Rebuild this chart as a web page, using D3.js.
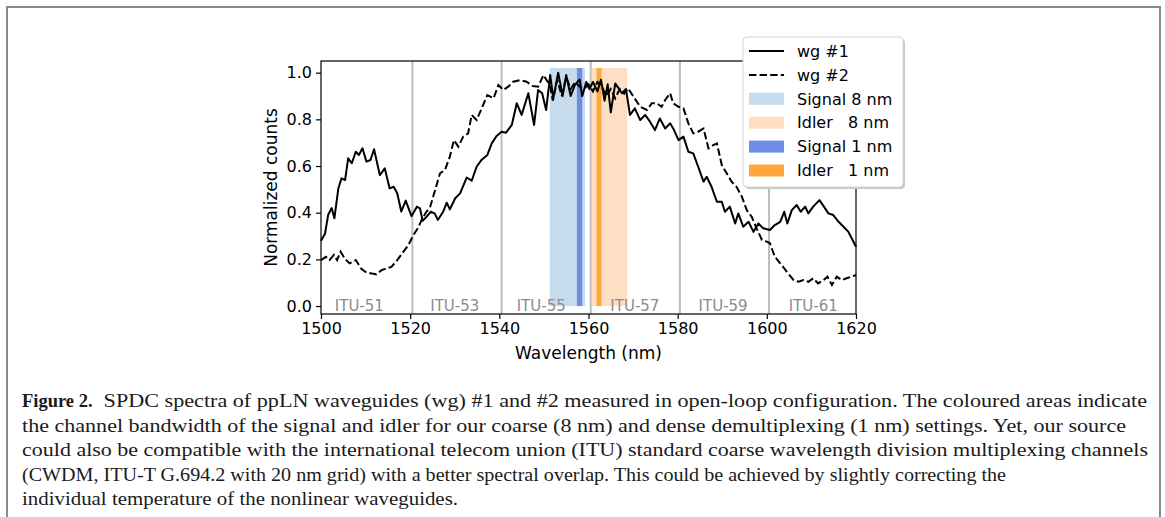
<!DOCTYPE html>
<html>
<head>
<meta charset="utf-8">
<script src="https://cdn.jsdelivr.net/npm/d3@7"></script>
<style>
  body { margin: 0; background: #fff; }
  svg { display: block; }
</style>
</head>
<body>
<div id="chart"></div>
<script>
// wg #1 (solid) - wavelength (nm) and normalized counts
const wl1 = [1500.0,1500.9,1501.6,1502.4,1503.0,1503.9,1504.6,1505.4,1506.1,1506.9,1507.8,1508.5,1509.3,1510.2,1511.1,1511.9,1513.2,1514.3,1515.4,1516.3,1517.1,1518.0,1519.0,1520.3,1521.5,1522.2,1522.8,1523.7,1524.6,1525.5,1526.2,1527.4,1528.2,1528.9,1530.1,1531.2,1532.7,1533.8,1534.9,1536.0,1537.3,1538.3,1539.4,1540.5,1541.5,1542.8,1543.9,1545.0,1546.5,1547.8,1548.7,1549.6,1550.5,1551.4,1552.1,1553.2,1554.2,1555.0,1556.0,1557.0,1558.0,1558.6,1559.5,1560.2,1561.0,1562.0,1562.8,1563.6,1564.3,1565.0,1566.0,1567.5,1568.4,1569.3,1570.4,1571.6,1572.7,1573.8,1574.9,1576.0,1577.2,1578.3,1579.0,1580.2,1581.3,1582.4,1583.5,1584.6,1585.8,1586.5,1587.6,1588.8,1589.9,1590.6,1591.7,1592.9,1593.6,1594.7,1595.9,1597.0,1598.1,1599.2,1600.7,1601.8,1603.0,1603.9,1604.6,1605.6,1606.7,1607.6,1608.6,1609.3,1610.4,1611.8,1612.8,1613.8,1614.9,1616.1,1617.2,1618.3,1620.0];
const wg1 = [0.28,0.31,0.39,0.42,0.376,0.505,0.547,0.54,0.633,0.612,0.661,0.647,0.676,0.619,0.626,0.672,0.561,0.59,0.504,0.511,0.483,0.405,0.452,0.385,0.426,0.419,0.365,0.383,0.404,0.397,0.369,0.404,0.443,0.414,0.462,0.483,0.551,0.537,0.597,0.626,0.647,0.697,0.729,0.747,0.743,0.776,0.869,0.819,0.912,0.776,0.926,0.912,0.84,0.99,0.89,1.0,0.9,0.99,0.9,0.95,0.97,0.9,0.96,0.93,0.96,0.92,0.97,0.88,0.95,0.83,0.954,0.912,0.93,0.819,0.847,0.797,0.819,0.79,0.754,0.804,0.761,0.783,0.761,0.711,0.726,0.661,0.654,0.597,0.533,0.554,0.511,0.447,0.447,0.404,0.426,0.354,0.397,0.34,0.361,0.318,0.354,0.333,0.326,0.347,0.361,0.404,0.354,0.411,0.433,0.404,0.426,0.397,0.426,0.454,0.426,0.397,0.39,0.361,0.34,0.318,0.254];

// wg #2 (dashed)
const wl2 = [1500.0,1501.1,1501.9,1502.9,1503.6,1504.4,1505.3,1506.4,1507.8,1509.0,1510.2,1511.3,1512.4,1513.6,1514.7,1515.8,1517.1,1518.5,1519.6,1520.6,1521.8,1522.6,1523.5,1524.5,1525.6,1526.7,1527.8,1528.9,1529.8,1530.8,1531.9,1533.0,1533.8,1534.9,1536.2,1537.3,1538.7,1539.8,1540.9,1542.0,1543.1,1544.6,1546.1,1547.5,1548.7,1549.9,1550.6,1551.3,1552.0,1553.0,1554.0,1555.0,1556.0,1557.0,1558.0,1559.0,1560.0,1561.0,1562.0,1563.0,1564.0,1565.0,1566.0,1567.0,1568.0,1568.9,1570.0,1571.6,1573.1,1574.2,1575.3,1576.4,1577.2,1578.3,1579.0,1580.2,1581.3,1582.4,1583.5,1584.6,1585.8,1586.9,1588.0,1588.8,1589.9,1591.0,1592.1,1593.2,1594.4,1595.5,1596.6,1597.7,1598.9,1600.0,1600.7,1601.8,1603.0,1604.5,1606.0,1607.1,1608.2,1609.3,1610.4,1611.5,1612.7,1613.6,1614.6,1615.7,1616.8,1617.9,1619.0,1620.0];
const wg2 = [0.197,0.211,0.197,0.219,0.197,0.233,0.204,0.183,0.197,0.161,0.143,0.14,0.136,0.154,0.161,0.168,0.197,0.233,0.261,0.30,0.336,0.37,0.40,0.426,0.497,0.569,0.583,0.64,0.711,0.683,0.726,0.74,0.819,0.797,0.854,0.904,0.89,0.947,0.926,0.94,0.961,0.968,0.961,0.943,0.94,0.99,0.968,0.95,0.88,0.97,0.9,0.98,0.93,0.96,0.94,0.93,0.95,0.92,0.96,0.94,0.9,0.93,0.89,0.93,0.91,0.933,0.9,0.854,0.84,0.869,0.869,0.854,0.883,0.912,0.869,0.854,0.847,0.783,0.74,0.747,0.761,0.676,0.69,0.697,0.604,0.569,0.533,0.511,0.469,0.411,0.383,0.333,0.283,0.276,0.269,0.211,0.183,0.147,0.111,0.104,0.111,0.104,0.119,0.097,0.111,0.126,0.09,0.126,0.111,0.119,0.126,0.133];

// filter bands (nm)
const bandNames = ["Signal 8 nm", "Idler   8 nm", "Signal 1 nm", "Idler   1 nm"];
const bandStart = [1551.3, 1560.7, 1557.4, 1561.8];
const bandEnd   = [1559.2, 1568.7, 1558.6, 1562.9];
const bandColors = ["#c6dbeb", "#fedfc4", "#708de3", "#ffa73f"];

// ITU CWDM grid boundaries and labels
const ituLines = [1520.5, 1540.5, 1560.5, 1580.5, 1600.5];
const ituLabels = ["ITU-51", "ITU-53", "ITU-55", "ITU-57", "ITU-59", "ITU-61"];
const ituLabelPos = [1508.6, 1530.0, 1549.4, 1570.4, 1590.2, 1610.4];

const xTicks = [1500, 1520, 1540, 1560, 1580, 1600, 1620];
const yTicks = [0.0, 0.2, 0.4, 0.6, 0.8, 1.0];

const captionLines = [
  "SPDC spectra of ppLN waveguides (wg) #1 and #2 measured in open-loop configuration. The coloured areas indicate",
  "the channel bandwidth of the signal and idler for our coarse (8 nm) and dense demultiplexing (1 nm) settings. Yet, our source",
  "could also be compatible with the international telecom union (ITU) standard coarse wavelength division multiplexing channels",
  "(CWDM, ITU-T G.694.2 with 20 nm grid) with a better spectral overlap. This could be achieved by slightly correcting the",
  "individual temperature of the nonlinear waveguides."
];

const width = 1165, height = 517;
const margin = {top: 61, right: 309, bottom: 203, left: 321};

const svg = d3.select("#chart").append("svg")
  .attr("width", width)
  .attr("height", height);

// page frame
svg.append("rect")
  .attr("x", 7).attr("y", 7)
  .attr("width", 1153).attr("height", 540)
  .attr("fill", "none")
  .attr("stroke", "#8a8a8a")
  .attr("stroke-width", 2);

const x = d3.scaleLinear()
  .domain([1500, 1620])
  .range([margin.left, width - margin.right]);

const y = d3.scaleLinear()
  .domain([-0.034, 1.05])
  .range([height - margin.bottom, margin.top]);

const plot = svg.append("g");

// coloured bands
plot.selectAll("rect.band")
  .data(bandNames)
  .join("rect")
  .attr("class", "band")
  .attr("x", (d, i) => x(bandStart[i]))
  .attr("y", y(1.02))
  .attr("width", (d, i) => x(bandEnd[i]) - x(bandStart[i]))
  .attr("height", y(0) - y(1.02))
  .attr("fill", (d, i) => bandColors[i]);

// ITU grid lines
plot.selectAll("line.itu")
  .data(ituLines)
  .join("line")
  .attr("x1", d => x(d)).attr("x2", d => x(d))
  .attr("y1", y.range()[1]).attr("y2", y.range()[0])
  .attr("stroke", "#bdbdbd")
  .attr("stroke-width", 2);

// ITU labels
plot.selectAll("text.itu")
  .data(ituLabels)
  .join("text")
  .attr("x", (d, i) => x(ituLabelPos[i]))
  .attr("y", y(0) + 5)
  .attr("text-anchor", "middle")
  .attr("font-family", "DejaVu Sans")
  .attr("font-size", "15px")
  .attr("fill", "#8c8c8c")
  .text(d => d);

// curves
const line = d3.line()
  .x(d => x(d[0]))
  .y(d => y(d[1]));

plot.append("path")
  .datum(wl2.map((w, i) => [w, wg2[i]]))
  .attr("d", line)
  .attr("fill", "none")
  .attr("stroke", "#000")
  .attr("stroke-width", 2)
  .attr("stroke-dasharray", "7.4,3.2");

plot.append("path")
  .datum(wl1.map((w, i) => [w, wg1[i]]))
  .attr("d", line)
  .attr("fill", "none")
  .attr("stroke", "#000")
  .attr("stroke-width", 2)
  .attr("stroke-linejoin", "round");

// frame
svg.append("rect")
  .attr("x", margin.left).attr("y", margin.top)
  .attr("width", width - margin.left - margin.right)
  .attr("height", height - margin.top - margin.bottom)
  .attr("fill", "none")
  .attr("stroke", "#000")
  .attr("stroke-width", 1.2);

// axes
const xAxis = svg.append("g")
  .attr("transform", `translate(0,${height - margin.bottom})`)
  .call(d3.axisBottom(x).tickValues(xTicks).tickFormat(d3.format("d")).tickSize(5).tickPadding(4));

const yAxis = svg.append("g")
  .attr("transform", `translate(${margin.left},0)`)
  .call(d3.axisLeft(y).tickValues(yTicks).tickFormat(d3.format(".1f")).tickSize(5).tickPadding(4));

[xAxis, yAxis].forEach(a => {
  a.select(".domain").remove();
  a.selectAll("line").attr("stroke", "#000").attr("stroke-width", 1.2);
  a.selectAll("text")
    .attr("fill", "#000")
    .style("font-family", "DejaVu Sans")
    .style("font-size", "16px");
});

// axis labels
svg.append("text")
  .attr("x", (margin.left + width - margin.right) / 2)
  .attr("y", 359)
  .attr("text-anchor", "middle")
  .style("font-family", "DejaVu Sans")
  .style("font-size", "17px")
  .text("Wavelength (nm)");

svg.append("text")
  .attr("transform", `translate(277,${(margin.top + height - margin.bottom) / 2}) rotate(-90)`)
  .attr("text-anchor", "middle")
  .style("font-family", "DejaVu Sans")
  .style("font-size", "17px")
  .text("Normalized counts");

// legend
const lg = svg.append("g").attr("transform", "translate(743,37)");
lg.append("rect")
  .attr("x", 2).attr("y", 2)
  .attr("width", 160).attr("height", 150)
  .attr("rx", 4)
  .attr("fill", "#c8c8c8");
lg.append("rect")
  .attr("width", 160).attr("height", 150)
  .attr("rx", 4)
  .attr("fill", "#fff")
  .attr("stroke", "#d6d6d6")
  .attr("stroke-width", 1);

const legendNames = ["wg #1", "wg #2"].concat(bandNames);
const rowY = i => 14 + i * 23.9;

lg.selectAll("line.lgl")
  .data([0, 1])
  .join("line")
  .attr("x1", 6).attr("x2", 41)
  .attr("y1", i => rowY(i)).attr("y2", i => rowY(i))
  .attr("stroke", "#000")
  .attr("stroke-width", 2)
  .attr("stroke-dasharray", i => i === 1 ? "7.4,3.2" : null);

lg.selectAll("rect.lgp")
  .data(bandColors)
  .join("rect")
  .attr("class", "lgp")
  .attr("x", 6)
  .attr("y", (d, i) => rowY(i + 2) - 6)
  .attr("width", 35)
  .attr("height", 12)
  .attr("fill", d => d);

lg.selectAll("text")
  .data(legendNames)
  .join("text")
  .attr("x", 54)
  .attr("y", (d, i) => rowY(i))
  .attr("dy", "0.36em")
  .attr("xml:space", "preserve")
  .style("white-space", "pre")
  .style("font-family", "DejaVu Sans")
  .style("font-size", "16px")
  .text(d => d);

// caption
const cap = svg.append("g")
  .style("font-family", "Liberation Serif")
  .style("font-size", "18.5px")
  .attr("fill", "#1a1a1a");
const capRight = [1147, 1126, 1148, 1006, 458];
const capY = [407, 432, 456, 481, 505];

const fig = cap.append("text")
  .attr("x", 22).attr("y", capY[0])
  .style("font-weight", "bold")
  .text("Figure 2.");
const figEnd = 22 + fig.node().getComputedTextLength() + 11;

cap.selectAll("text.line")
  .data(captionLines)
  .join("text")
  .attr("class", "line")
  .attr("x", (d, i) => i === 0 ? figEnd : 22)
  .attr("y", (d, i) => capY[i])
  .attr("textLength", (d, i) => capRight[i] - (i === 0 ? figEnd : 22))
  .attr("lengthAdjust", "spacingAndGlyphs")
  .text(d => d);
</script>
</body>
</html>
